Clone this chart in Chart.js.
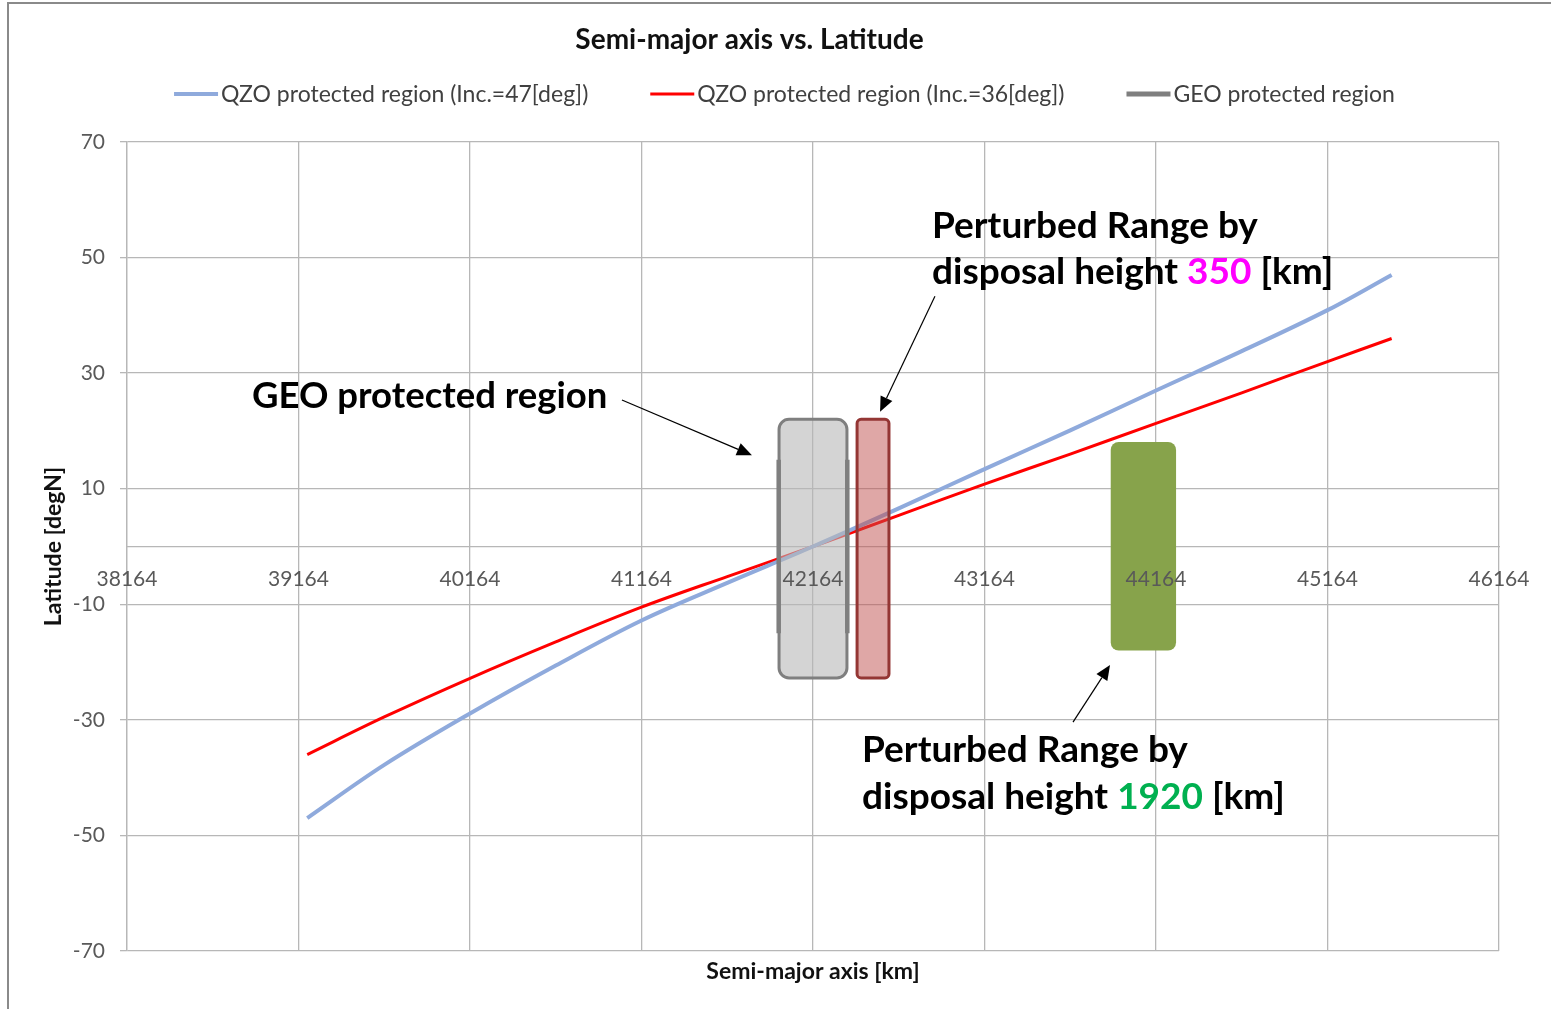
<!DOCTYPE html>
<html><head><meta charset="utf-8">
<script src="https://cdn.jsdelivr.net/npm/chart.js@4.4.1/dist/chart.umd.min.js"></script>
<style>html,body{margin:0;padding:0;background:#fff;overflow:hidden}#wrap{width:1551px;height:1009px;position:relative}</style>
</head><body><div id="wrap"><canvas id="c" width="1551" height="1009"></canvas></div>
<script>
// ---------------- data ----------------
const semiMajorAxis = [39215, 39664, 40164, 40664, 41164, 41664, 42164, 42664, 43164, 43664, 44164, 44664, 45164, 45538];
const latQzo47 = [-47.0, -37.8, -28.9, -20.6, -12.8, -6.3, 0, 6.6, 13.4, 20.1, 27.0, 33.8, 40.9, 47.0];
const latQzo36 = [-36.0, -29.5, -22.8, -16.5, -10.5, -5.2, 0, 5.4, 10.8, 16.0, 21.3, 26.6, 32.0, 36.0];
const geoLineX = [41964, 41964, 42164, 42364, 42364];
const geoLineY = [-15, 15, null, 15, -15];
const seriesNames = ['QZO protected region (Inc.=47[deg])', 'QZO protected region (Inc.=36[deg])', 'GEO protected region'];
const xTickValues = [38164, 39164, 40164, 41164, 42164, 43164, 44164, 45164, 46164];
const yTickValues = [-70, -50, -30, -10, 10, 30, 50, 70];
// boxes: [xMin, xMax, yMin, yMax] in data units
const geoRegionBox = [41966, 42362, -22.75, 22.0];
const perturbed350Box = [42421, 42607, -22.75, 22.0];
const perturbed1920Box = [43900, 44281, -18.0, 18.1];
// annotation anchors (data units)
const geoLabelAt = [38893, 26.0];
const geoArrow = [[41050, 25.35], [41808, 15.8]];
const p350LabelAt = [[42858, 55.5], [42858, 47.5]];
const p350Arrow = [[42875, 43.3], [42555, 23.3]];
const p1920LabelAt = [[42450, -35.2], [42450, -43.3]];
const p1920Arrow = [[43680, -30.4], [43896, -20.5]];

const FONT = 'Lato';
const gridColor = '#b7b7b7';
const toXY = (xs, ys) => xs.map((x, i) => ({x: x, y: ys[i]}));

function rrect(ctx, x0, y0, x1, y1, r) {
  ctx.beginPath();
  ctx.moveTo(x0 + r, y0);
  ctx.arcTo(x1, y0, x1, y1, r);
  ctx.arcTo(x1, y1, x0, y1, r);
  ctx.arcTo(x0, y1, x0, y0, r);
  ctx.arcTo(x0, y0, x1, y0, r);
  ctx.closePath();
}
function boxPx(chart, b) {
  const xs = chart.scales.x, ys = chart.scales.y;
  return [xs.getPixelForValue(b[0]), ys.getPixelForValue(b[3]), xs.getPixelForValue(b[1]), ys.getPixelForValue(b[2])];
}
function arrow(ctx, chart, a) {
  const xs = chart.scales.x, ys = chart.scales.y;
  const x0 = xs.getPixelForValue(a[0][0]), y0 = ys.getPixelForValue(a[0][1]);
  const x1 = xs.getPixelForValue(a[1][0]), y1 = ys.getPixelForValue(a[1][1]);
  const ang = Math.atan2(y1 - y0, x1 - x0);
  const L = 15, W = 6.5;
  ctx.save();
  ctx.strokeStyle = '#000'; ctx.fillStyle = '#000'; ctx.lineWidth = 1.2;
  ctx.beginPath(); ctx.moveTo(x0, y0);
  ctx.lineTo(x1 - Math.cos(ang) * L, y1 - Math.sin(ang) * L); ctx.stroke();
  ctx.beginPath();
  ctx.moveTo(x1, y1);
  ctx.lineTo(x1 - Math.cos(ang) * L - Math.sin(ang) * W, y1 - Math.sin(ang) * L + Math.cos(ang) * W);
  ctx.lineTo(x1 - Math.cos(ang) * L + Math.sin(ang) * W, y1 - Math.sin(ang) * L - Math.cos(ang) * W);
  ctx.closePath(); ctx.fill();
  ctx.restore();
}
function richText(ctx, chart, at, parts) {
  let x = chart.scales.x.getPixelForValue(at[0]);
  const y = chart.scales.y.getPixelForValue(at[1]);
  parts.forEach(p => {
    ctx.fillStyle = p[1];
    ctx.fillText(p[0], x, y);
    x += ctx.measureText(p[0]).width;
  });
}

const framePlugin = {
  id: 'frame',
  beforeDraw(chart) {
    const ctx = chart.ctx;
    ctx.save();
    ctx.fillStyle = '#fff'; ctx.fillRect(0, 0, chart.width, chart.height);
    ctx.strokeStyle = '#8a8a8a'; ctx.lineWidth = 2;
    ctx.beginPath(); ctx.moveTo(8, chart.height); ctx.lineTo(8, 3); ctx.lineTo(chart.width, 3); ctx.stroke();
    ctx.restore();
  }
};

const shapesPlugin = {
  id: 'shapes',
  afterDatasetDraw(chart, args) {
    if (args.index !== 0) return;
    const ctx = chart.ctx;
    ctx.save();
    let b = boxPx(chart, geoRegionBox);
    rrect(ctx, b[0], b[1], b[2], b[3], 10);
    ctx.fillStyle = 'rgba(184,184,184,0.6)'; ctx.fill();
    ctx.lineWidth = 3; ctx.strokeStyle = '#7f7f7f'; ctx.stroke();
    b = boxPx(chart, perturbed350Box);
    rrect(ctx, b[0], b[1], b[2], b[3], 4);
    ctx.fillStyle = 'rgba(192,80,77,0.5)'; ctx.fill();
    ctx.lineWidth = 3; ctx.strokeStyle = '#943634'; ctx.stroke();
    b = boxPx(chart, perturbed1920Box);
    rrect(ctx, b[0], b[1], b[2], b[3], 8);
    ctx.fillStyle = '#87a34b'; ctx.fill();
    ctx.restore();
  }
};

const annotPlugin = {
  id: 'annot',
  afterDraw(chart) {
    const ctx = chart.ctx;
    ctx.save();
    // legend
    const ds = chart.data.datasets;
    ctx.font = '23px ' + FONT;
    ctx.textBaseline = 'middle';
    const lineLen = 44, gapTxt = 3, gapItem = 62;
    const widths = ds.map(d => lineLen + gapTxt + ctx.measureText(d.label).width);
    const total = widths.reduce((a, b) => a + b, 0) + gapItem * (ds.length - 1);
    let lx = 784.5 - total / 2;
    const ly = 94;
    ds.forEach((d, i) => {
      ctx.strokeStyle = d.borderColor; ctx.lineWidth = d.legendWidth;
      ctx.beginPath(); ctx.moveTo(lx, ly); ctx.lineTo(lx + lineLen, ly); ctx.stroke();
      ctx.fillStyle = '#404040';
      ctx.fillText(d.label, lx + lineLen + gapTxt, ly + 1);
      lx += widths[i] + gapItem;
    });
    // annotations
    ctx.textBaseline = 'middle';
    ctx.font = 'bold 36.5px ' + FONT;
    richText(ctx, chart, geoLabelAt, [['GEO protected region', '#000']]);
    ctx.font = 'bold 37px ' + FONT;
    richText(ctx, chart, p350LabelAt[0], [['Perturbed Range by', '#000']]);
    richText(ctx, chart, p350LabelAt[1], [['disposal height ', '#000'], ['350', '#ff00ff'], [' [km]', '#000']]);
    richText(ctx, chart, p1920LabelAt[0], [['Perturbed Range by', '#000']]);
    richText(ctx, chart, p1920LabelAt[1], [['disposal height ', '#000'], ['1920', '#00b050'], [' [km]', '#000']]);
    arrow(ctx, chart, geoArrow);
    arrow(ctx, chart, p350Arrow);
    arrow(ctx, chart, p1920Arrow);
    ctx.restore();
  }
};

const tickFont = {family: FONT, size: 21};
const setTicks = vals => scale => { scale.ticks = vals.map(v => ({value: v})); };

new Chart(document.getElementById('c'), {
  type: 'scatter',
  data: {
    datasets: [
      {label: seriesNames[0], data: toXY(semiMajorAxis, latQzo47), showLine: true, borderColor: '#8faadc', borderWidth: 4, legendWidth: 4, pointRadius: 0, tension: 0.35, order: 0},
      {label: seriesNames[1], data: toXY(semiMajorAxis, latQzo36), showLine: true, borderColor: '#ff0000', borderWidth: 3, legendWidth: 3, pointRadius: 0, tension: 0.35, order: 0},
      {label: seriesNames[2], data: toXY(geoLineX, geoLineY), showLine: true, borderColor: '#7f7f7f', borderWidth: 4.5, legendWidth: 5, pointRadius: 0, spanGaps: false, order: -1}
    ]
  },
  options: {
    responsive: false,
    animation: false,
    layout: {padding: {left: 0, right: 52, top: 0, bottom: 0}},
    plugins: {
      legend: {display: false},
      tooltip: {enabled: false},
      title: {display: true, text: 'Semi-major axis vs. Latitude', color: '#111',
        font: {family: FONT, size: 28, weight: 'bold', lineHeight: 1.2}, padding: {top: 23.2, bottom: 85.2}}
    },
    scales: {
      x: {
        type: 'linear', position: 'bottom', min: 38164, max: 46164,
        afterBuildTicks: setTicks(xTickValues),
        afterFit: s => { s.height = 58; },
        ticks: {display: false},
        grid: {color: gridColor, lineWidth: 1.3, drawTicks: false},
        border: {display: false},
        title: {display: true, text: 'Semi-major axis [km]', color: '#111',
          font: {family: FONT, size: 23, weight: 'bold', lineHeight: 1.2}, padding: {top: 0, bottom: 23.2}}
      },
      x2: {
        type: 'linear', axis: 'x', position: {y: 0}, min: 38164, max: 46164,
        afterBuildTicks: setTicks(xTickValues),
        afterFit: s => { s.height = 0; },
        ticks: {font: tickFont, color: '#595959', padding: 20, maxRotation: 0, autoSkip: false, z: 1,
          callback: v => String(v)},
        grid: {display: false, drawTicks: false, z: -1},
        border: {display: true, color: gridColor, width: 1.3}
      },
      y: {
        type: 'linear', position: 'left', min: -70, max: 70,
        afterBuildTicks: setTicks(yTickValues),
        afterFit: s => { s.width = 127; },
        ticks: {font: tickFont, color: '#595959', padding: 15, callback: v => String(v)},
        grid: {color: gridColor, lineWidth: 1.3, tickLength: 7, drawTicks: true},
        border: {display: true, color: gridColor, width: 1.3},
        title: {display: true, text: 'Latitude [degN]', color: '#111',
          font: {family: FONT, size: 23, weight: 'bold', lineHeight: 1.2}, padding: {top: 40, bottom: 0}}
      }
    }
  },
  plugins: [framePlugin, shapesPlugin, annotPlugin]
});
</script></body></html>
